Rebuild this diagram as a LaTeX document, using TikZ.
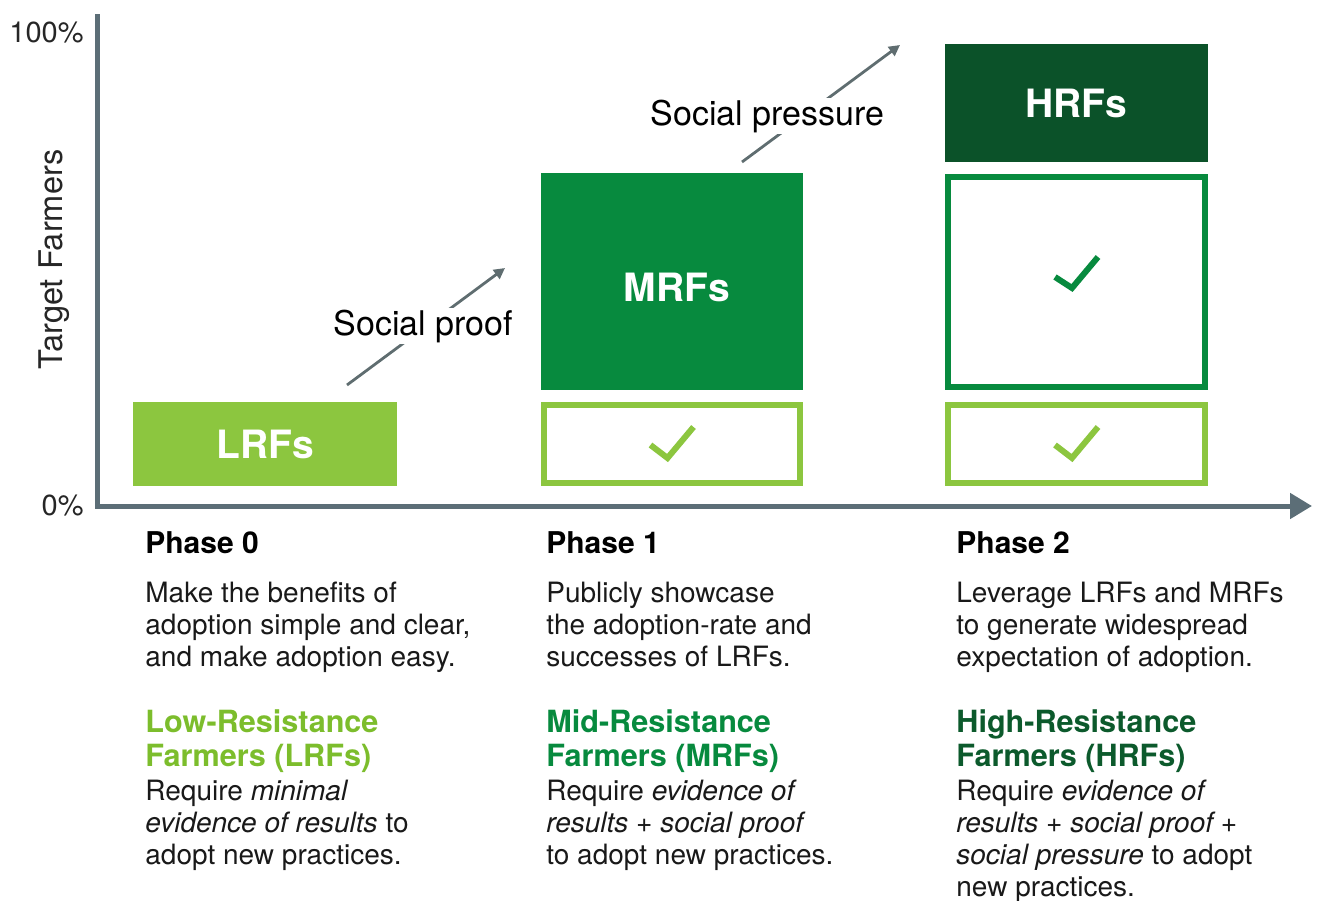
\documentclass[tikz,border=0pt]{standalone}
\usepackage{fontspec}
\setmainfont{TeX Gyre Heros}
\usetikzlibrary{arrows.meta}
\definecolor{lgreen}{HTML}{8CC63F}
\definecolor{lheadc}{HTML}{7CBD2C}
\definecolor{mgreen}{HTML}{078A3E}
\definecolor{dgreen}{HTML}{0B5229}
\definecolor{dheadc}{HTML}{0C5A2C}
\definecolor{axisgray}{HTML}{5C6E77}
\definecolor{arrowgray}{HTML}{5F6D70}
\begin{document}
\begin{tikzpicture}[x=0.5pt,y=-0.5pt,
  axisline/.style={draw=axisgray,line width=2.5pt,line join=miter},
  axislbl/.style={inner sep=0pt,font=\fontsize{14.5}{17}\selectfont,text=black!85},
  solidbox/.style={inner sep=0pt,text=white,font=\bfseries\fontsize{19.5}{22}\selectfont},
  outbox/.style={draw,line width=3pt,inner sep=0pt,fill=white},
  chk/.style={line width=3pt,line cap=butt,line join=miter},
  sarrow/.style={draw=arrowgray,line width=1.4pt,-{Triangle[length=5.5pt,width=5.5pt]}},
  slbl/.style={fill=white,inner sep=1pt,font=\fontsize{17}{20}\selectfont,anchor=base},
  phasett/.style={anchor=base west,inner sep=0pt,font=\bfseries\fontsize{15}{18}\selectfont},
  bodytxt/.style={anchor=base west,inner sep=0pt,align=left,font=\fontsize{14}{16}\selectfont,text=black!90},
  headtxt/.style={anchor=base west,inner sep=0pt,align=left,font=\bfseries\fontsize{15.3}{17}\selectfont}
]
\useasboundingbox (0,0) rectangle (1317,900);

% axes
\coordinate (ytop) at (97,14);
\coordinate (origin) at (97,506);
\coordinate (xend) at (1312,506);
\draw[axisline,-{Triangle[length=11pt,width=12.5pt]}] (ytop) -- (origin) -- (xend);
\node[axislbl,anchor=base east] (l100) at (84,42) {100\%};
\node[axislbl,anchor=base east] (l0) at (84,515) {0\%};
\node[axislbl,rotate=90,anchor=base,font=\fontsize{16.3}{19}\selectfont] (ylab) at (62,259.5) {Target Farmers};

% phase 0
\node[solidbox,fill=lgreen,minimum width=132pt,minimum height=42pt] (lrf) at (265,444) {LRFs};

% phase 1
\node[solidbox,fill=mgreen,minimum width=131pt,minimum height=108.5pt] (mrf) at (672,281.5) {\hspace*{5pt}\raisebox{-10pt}[0pt][0pt]{MRFs}};
\node[outbox,draw=lgreen,minimum width=128pt,minimum height=39pt] (p1b) at (672,444) {};
\draw[chk,lgreen] ([shift={(-21.5,1)}]p1b.center) -- ++(17,13) -- ++(26,-31);

% phase 2
\node[solidbox,fill=dgreen,minimum width=131.5pt,minimum height=59pt] (hrf) at (1076.5,103) {HRFs};
\node[outbox,draw=mgreen,minimum width=128.5pt,minimum height=105pt] (p2m) at (1076.5,282) {};
\draw[chk,mgreen] ([shift={(-21.5,-5)}]p2m.center) -- ++(17,11) -- ++(26,-31);
\node[outbox,draw=lgreen,minimum width=128.5pt,minimum height=39pt] (p2b) at (1076.5,444) {};
\draw[chk,lgreen] ([shift={(-21.5,1)}]p2b.center) -- ++(17,13) -- ++(26,-31);

% social arrows
\coordinate (sp1) at (347,385);
\coordinate (sp2) at (505,268);
\draw[sarrow] (sp1) -- (sp2);
\node[slbl] (spl) at (423.5,335) {Social proof};
\coordinate (ps1) at (742,162);
\coordinate (ps2) at (900,45);
\draw[sarrow] (ps1) -- (ps2);
\node[slbl] (psl) at (767.5,125) {Social pressure};

% phase 0 text (base anchor = last line)
\node[phasett] (ph0) at (145,553) {Phase 0};
\node[bodytxt] (d0) at (145,666) {Make the benefits of\\adoption simple and clear,\\and make adoption easy.};
\node[headtxt,text=lheadc] (h0) at (145,766) {Low-Resistance\\Farmers (LRFs)};
\node[bodytxt] (r0) at (145,864) {Require \textit{minimal}\\\textit{evidence of results} to\\adopt new practices.};

% phase 1 text
\node[phasett] (ph1) at (546,553) {Phase 1};
\node[bodytxt] (d1) at (546,666) {Publicly showcase\\the adoption-rate and\\successes of LRFs.};
\node[headtxt,text=mgreen] (h1) at (546,766) {Mid-Resistance\\Farmers (MRFs)};
\node[bodytxt] (r1) at (546,864) {Require \textit{evidence of}\\\textit{results + social proof}\\to adopt new practices.};

% phase 2 text
\node[phasett] (ph2) at (956,553) {Phase 2};
\node[bodytxt] (d2) at (956,666) {Leverage LRFs and MRFs\\to generate widespread\\expectation of adoption.};
\node[headtxt,text=dheadc] (h2) at (956,766) {High-Resistance\\Farmers (HRFs)};
\node[bodytxt] (r2) at (956,896) {Require \textit{evidence of}\\\textit{results + social proof +}\\\textit{social pressure} to adopt\\new practices.};
\end{tikzpicture}
\end{document}
